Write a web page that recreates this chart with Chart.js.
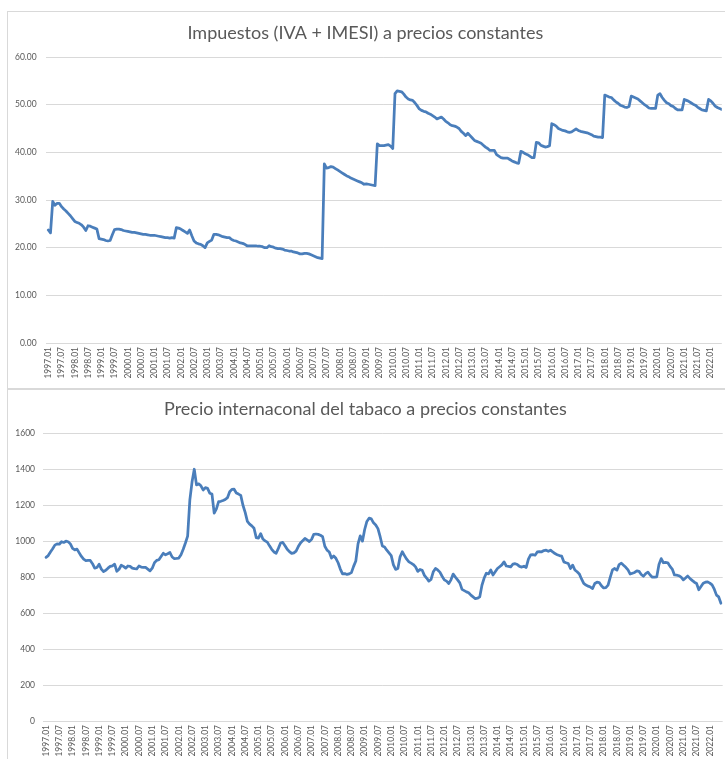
<!DOCTYPE html>
<html>
<head>
<meta charset="utf-8">
<script src="https://cdn.jsdelivr.net/npm/chart.js@4.4.1/dist/chart.umd.min.js"></script>
<style>
  body { margin: 0; background: #fff; width: 725px; height: 759px; overflow: hidden; position: relative; }
  .box { position: absolute; left: 7px; width: 740px; border: 1px solid #d9d9d9; }
  #boxTop { top: 11px; height: 377px; }
  #boxBottom { top: 388px; height: 400px; }
  canvas { position: absolute; }
  #impuestosChart { left: 8px; top: 12px; }
  #tabacoChart { left: 8px; top: 389px; }
</style>
</head>
<body>
<div class="box" id="boxTop"></div>
<div class="box" id="boxBottom"></div>
<canvas id="impuestosChart" width="717" height="376"></canvas>
<canvas id="tabacoChart" width="717" height="370"></canvas>
<script>
"use strict";

// monthly series, 1997.01 -> 2022.06
const START_YEAR = 1997;
const MONTHS = 306;

const impuestos = [
  23.7, 23.1, 29.7, 28.9, 29.3, 29.3, 28.6, 28.1, 27.7, 27.2, 26.7, 26.1,   // 1997
  25.5, 25.3, 25.1, 24.8, 24.3, 23.6, 24.6, 24.5, 24.3, 24.1, 23.9, 21.9,   // 1998
  21.8, 21.7, 21.5, 21.4, 21.5, 22.7, 23.8, 23.9, 23.9, 23.8, 23.6, 23.5,   // 1999
  23.4, 23.3, 23.2, 23.2, 23.1, 23.0, 22.9, 22.8, 22.8, 22.7, 22.6, 22.6,   // 2000
  22.6, 22.5, 22.4, 22.3, 22.2, 22.1, 22.1, 22.0, 22.1, 22.0, 24.2, 24.1,   // 2001
  23.9, 23.6, 23.3, 23.0, 23.7, 22.5, 21.4, 21.0, 20.8, 20.7, 20.4, 20.0,   // 2002
  21.0, 21.3, 21.6, 22.8, 22.8, 22.7, 22.5, 22.3, 22.2, 22.1, 22.1, 21.7,   // 2003
  21.5, 21.4, 21.2, 21.0, 20.9, 20.7, 20.4, 20.4, 20.4, 20.4, 20.4, 20.3,   // 2004
  20.3, 20.2, 20.0, 20.0, 20.4, 20.2, 20.1, 19.9, 19.8, 19.8, 19.7, 19.5,   // 2005
  19.4, 19.3, 19.3, 19.1, 19.0, 18.9, 18.7, 18.7, 18.8, 18.8, 18.7, 18.5,   // 2006
  18.3, 18.1, 17.9, 17.8, 17.7, 37.6, 36.7, 36.8, 37.0, 36.9, 36.6, 36.3,   // 2007
  36.0, 35.7, 35.4, 35.1, 34.9, 34.6, 34.4, 34.2, 34.0, 33.8, 33.6, 33.3,   // 2008
  33.4, 33.3, 33.2, 33.1, 33.0, 41.8, 41.4, 41.4, 41.4, 41.5, 41.6, 41.3,   // 2009
  40.8, 52.3, 52.9, 52.8, 52.7, 52.2, 51.6, 51.2, 51.0, 50.9, 50.4, 49.8,   // 2010
  49.1, 48.8, 48.6, 48.5, 48.2, 48.0, 47.7, 47.4, 47.0, 47.2, 47.4, 47.0,   // 2011
  46.5, 46.2, 45.8, 45.6, 45.5, 45.3, 45.0, 44.4, 44.0, 43.5, 44.0, 43.5,   // 2012
  43.0, 42.5, 42.3, 42.1, 41.9, 41.5, 41.1, 40.8, 40.4, 40.4, 40.4, 39.5,   // 2013
  39.2, 38.9, 38.8, 38.8, 38.8, 38.5, 38.2, 38.0, 37.8, 37.7, 40.2, 40.0,   // 2014
  39.7, 39.5, 39.2, 38.9, 38.9, 42.1, 42.0, 41.5, 41.3, 41.1, 41.2, 41.4,   // 2015
  46.0, 45.8, 45.5, 45.0, 44.8, 44.6, 44.5, 44.3, 44.2, 44.3, 44.6, 44.9,   // 2016
  44.6, 44.4, 44.3, 44.2, 44.1, 43.9, 43.7, 43.4, 43.3, 43.2, 43.2, 43.1,   // 2017
  52.0, 51.8, 51.6, 51.5, 51.0, 50.6, 50.3, 49.9, 49.7, 49.5, 49.4, 49.6,   // 2018
  51.8, 51.6, 51.4, 51.2, 50.8, 50.4, 50.0, 49.7, 49.3, 49.2, 49.2, 49.2,   // 2019
  52.0, 52.3, 51.5, 50.9, 50.4, 50.2, 49.8, 49.6, 49.2, 48.9, 48.9, 48.9,   // 2020
  51.1, 50.9, 50.7, 50.4, 50.1, 49.9, 49.5, 49.2, 48.9, 48.8, 48.7, 51.1,   // 2021
  50.8, 50.3, 49.7, 49.4, 49.2, 49.0                                        // 2022
];

const precioTabaco = [
  910, 920, 940, 958, 978, 985, 983, 997, 993, 1000, 997, 985,              // 1997
  960, 952, 956, 935, 915, 900, 892, 893, 893, 875, 850, 854,               // 1998
  872, 845, 831, 838, 850, 860, 863, 872, 833, 844, 866, 860,               // 1999
  850, 862, 860, 850, 847, 846, 862, 856, 854, 854, 845, 835,               // 2000
  850, 880, 893, 897, 915, 933, 924, 930, 937, 912, 903, 904,               // 2001
  906, 925, 955, 990, 1028, 1230, 1330, 1400, 1313, 1319, 1308, 1285,       // 2002
  1298, 1294, 1267, 1262, 1156, 1180, 1220, 1222, 1226, 1232, 1242, 1275,   // 2003
  1288, 1289, 1268, 1262, 1255, 1200, 1160, 1110, 1095, 1085, 1072, 1020,   // 2004
  1017, 1042, 1012, 1002, 995, 974, 955, 940, 933, 960, 990, 993,           // 2005
  975, 955, 942, 932, 935, 945, 970, 990, 1003, 1015, 1007, 998,            // 2006
  1010, 1038, 1040, 1038, 1033, 1025, 972, 950, 940, 906, 918, 905,         // 2007
  880, 845, 818, 820, 815, 818, 825, 860, 890, 985, 1030, 1000,             // 2008
  1065, 1110, 1128, 1124, 1102, 1090, 1070, 1025, 973, 968, 950, 935,       // 2009
  920, 868, 843, 848, 913, 941, 920, 900, 885, 878, 870, 857,               // 2010
  832, 843, 838, 810, 795, 778, 787, 830, 848, 840, 828, 805,               // 2011
  785, 778, 765, 785, 817, 800, 785, 768, 732, 725, 718, 713,               // 2012
  700, 690, 680, 683, 690, 755, 795, 822, 818, 840, 812, 830,               // 2013
  848, 858, 868, 885, 862, 860, 857, 872, 875, 870, 860, 856,               // 2014
  861, 854, 900, 924, 925, 922, 940, 942, 941, 948, 950, 944,               // 2015
  950, 940, 931, 925, 920, 917, 885, 880, 876, 848, 867, 840,               // 2016
  830, 818, 790, 765, 756, 750, 745, 737, 765, 772, 770, 752,               // 2017
  740, 742, 756, 800, 840, 848, 839, 870, 878, 866, 855, 840,               // 2018
  817, 822, 826, 835, 832, 815, 805, 820, 828, 812, 800, 800,               // 2019
  802, 870, 903, 880, 882, 880, 860, 845, 812, 811, 808, 800,               // 2020
  785, 795, 806, 793, 782, 772, 765, 730, 748, 766, 772, 774,               // 2021
  767, 757, 733, 700, 690, 655                                              // 2022
];

const impuestosTicks = [0, 10, 20, 30, 40, 50, 60];
const tabacoTicks = [0, 200, 400, 600, 800, 1000, 1200, 1400, 1600];

// month labels "1997.01" ... and the half-year positions that carry a tick label
const meses = [];
for (let i = 0; i < MONTHS; i++) {
  const y = START_YEAR + Math.floor(i / 12);
  const m = (i % 12) + 1;
  meses.push(`${y}.${m < 10 ? '0' + m : m}`);
}
const tickMeses = [];
for (let i = 0; i < MONTHS; i += 6) tickMeses.push(i);

const LINE_COLOR = '#4a7ebb';
const GRID_COLOR = '#d9d9d9';
const TEXT_COLOR = '#595959';

Chart.defaults.font.family = 'Lato, "Open Sans", sans-serif';
Chart.defaults.color = TEXT_COLOR;

const buildChart = (canvasId, title, values, yTicks, opts) => {
  const ctx = document.getElementById(canvasId);
  return new Chart(ctx, {
    type: 'line',
    data: {
      datasets: [{
        data: values.map((v, i) => ({ x: i, y: v })),
        borderColor: LINE_COLOR,
        borderWidth: 2.75,
        borderCapStyle: 'round',
        borderJoinStyle: 'round',
        pointRadius: 0,
        tension: 0,
        fill: false
      }]
    },
    options: {
      responsive: false,
      animation: false,
      layout: { padding: { left: 0, right: 2.3, top: 0, bottom: 0 } },
      plugins: {
        legend: { display: false },
        tooltip: { enabled: false },
        title: {
          display: true,
          text: title,
          color: TEXT_COLOR,
          font: { size: 18, weight: 'normal' },
          padding: { top: opts.titleTop, bottom: opts.titleBottom }
        }
      },
      scales: {
        x: {
          type: 'linear',
          min: opts.xMin,
          max: opts.xMax,
          grid: { display: false, drawTicks: false },
          border: { display: false },
          afterBuildTicks: (scale) => { scale.ticks = tickMeses.map(v => ({ value: v })); },
          ticks: {
            autoSkip: false,
            minRotation: 90,
            maxRotation: 90,
            padding: 4,
            font: { size: 8.5 },
            callback: (v) => meses[v]
          },
          afterFit: (scale) => { scale.height = opts.xHeight; }
        },
        y: {
          min: yTicks[0],
          max: yTicks[yTicks.length - 1],
          grid: { color: GRID_COLOR, lineWidth: 1, drawTicks: false },
          border: { display: false },
          ticks: {
            stepSize: yTicks[1] - yTicks[0],
            padding: opts.yPad,
            font: { size: 8.5 },
            callback: opts.fmt
          },
          afterFit: (scale) => { scale.width = opts.yWidth; }
        }
      }
    }
  });
};

buildChart('impuestosChart', 'Impuestos (IVA + IMESI) a precios constantes', impuestos, impuestosTicks, {
  titleTop: 10, titleBottom: 13.4, xHeight: 45, yWidth: 38, yPad: 9.3,
  xMin: -1.04, xMax: 305.0,
  fmt: (v) => v.toFixed(2)
});

buildChart('tabacoChart', 'Precio internaconal del tabaco a precios constantes', precioTabaco, tabacoTicks, {
  titleTop: 9.2, titleBottom: 13.5, xHeight: 38, yWidth: 34.7, yPad: 7.7,
  xMin: -1.5, xMax: 305.8,
  fmt: (v) => String(v)
});
</script>
</body>
</html>
